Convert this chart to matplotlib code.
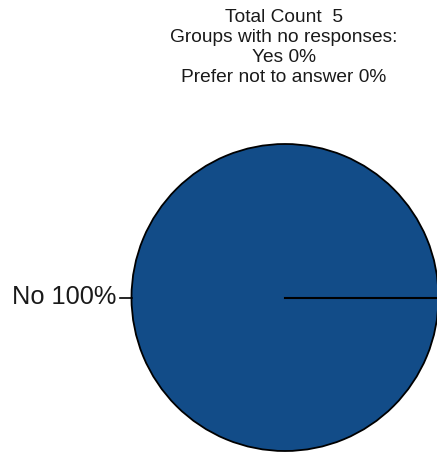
import matplotlib.pyplot as plt

# datos
etiquetas = ["No"]
valores = [5]
porcentajes = [100]
total = 5
sin_respuesta = ["Yes 0%", "Prefer not to answer 0%"]

plt.rcParams['font.family'] = ['Liberation Sans', 'DejaVu Sans']

fig = plt.figure(figsize=(4.37, 4.54), dpi=100)
ax = fig.add_axes([0, 0, 1, 1])
ax.set_xlim(0, 437)
ax.set_ylim(454, 0)
ax.set_aspect('equal')
ax.axis('off')

centro = (285, 297.5)
radio = 153.5

# pastel
ax.pie(valores, center=centro, radius=radio, startangle=0, counterclock=False,
       colors=['#124C88'], wedgeprops={'edgecolor': 'black', 'linewidth': 1.3})
ax.set_xlim(0, 437)
ax.set_ylim(454, 0)
ax.plot([centro[0], centro[0] + radio], [centro[1], centro[1]], color='black', lw=1.5)

# etiqueta con guia
ax.plot([centro[0] - radio - 12, centro[0] - radio], [centro[1], centro[1]], color='black', lw=1.2)
for e, p in zip(etiquetas, porcentajes):
    ax.text(centro[0] - radio - 15, centro[1], f"{e} {p}%", ha='right', va='center',
            fontsize=18.3, color='#1a1a1a')

# titulo
lineas = [f"Total Count  {total}", "Groups with no responses:"] + sin_respuesta
for i, l in enumerate(lineas):
    ax.text(284, 17 + i * 20.2, l, ha='center', va='center', fontsize=13.8, color='#1a1a1a')

plt.savefig('out.png', dpi=100)
